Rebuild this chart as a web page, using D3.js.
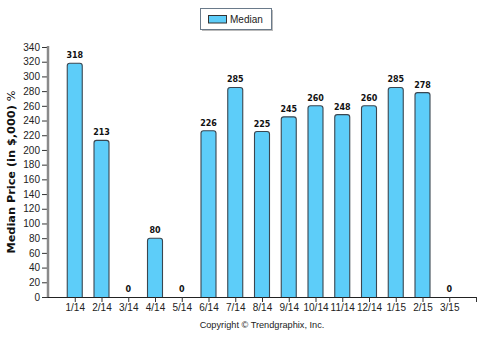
<!DOCTYPE html>
<html>
<head>
<meta charset="utf-8">
<script src="https://cdn.jsdelivr.net/npm/d3@7"></script>
<style>
  html, body { margin: 0; padding: 0; background: #fff; }
  svg { display: block; font-family: "Liberation Sans", Arial, sans-serif; }
</style>
</head>
<body>
<svg id="chart" width="482" height="338"></svg>
<script>
// Monthly median price, in $1,000s
const months = ["1/14","2/14","3/14","4/14","5/14","6/14","7/14","8/14","9/14","10/14","11/14","12/14","1/15","2/15","3/15"];
const medianValues = [318, 213, 0, 80, 0, 226, 285, 225, 245, 260, 248, 260, 285, 278, 0];
const yTicks = [0,20,40,60,80,100,120,140,160,180,200,220,240,260,280,300,320,340];
const seriesName = "Median";

const svg = d3.select("#chart");
const plotLeft = 48, plotRight = 476, plotTop = 47, plotBottom = 297;
const tickFont = "'Liberation Sans', Arial, sans-serif";

// Categories sit on whole-number slots 1..15 of a 0..16 axis
const x = d3.scaleLinear().domain([0, months.length + 1]).range([plotLeft, plotRight]);
const y = d3.scaleLinear().domain([0, 340]).range([plotBottom, plotTop]);
const barW = 15;
const fill = "#5dcdf9";

// Bars with slightly rounded tops
const bars = svg.append("g");
months.forEach((m, i) => {
  const v = medianValues[i];
  if (v <= 0) return;
  const x0 = x(i + 1) - barW / 2, x1 = x0 + barW;
  const yt = y(v), yb = y(0), r = 2.5;
  const p = `M${x0},${yb} L${x0},${yt + r} Q${x0},${yt} ${x0 + r},${yt} L${x1 - r},${yt} Q${x1},${yt} ${x1},${yt + r} L${x1},${yb}`;
  bars.append("path").attr("d", p + "Z").attr("fill", fill).attr("stroke", "none");
  bars.append("path").attr("d", p).attr("fill", "none").attr("stroke", "#3a4650").attr("stroke-width", 1.1);
});

// Value labels
svg.append("g").selectAll("text").data(months).join("text")
  .attr("x", (d, i) => x(i + 1))
  .attr("y", (d, i) => y(medianValues[i]) - 5)
  .attr("text-anchor", "middle")
  .attr("font-family", "'DejaVu Sans', sans-serif")
  .attr("font-size", 8).attr("font-weight", "bold").attr("fill", "#111")
  .text((d, i) => medianValues[i]);

// Y axis
const yAxis = d3.axisLeft(y).tickValues(yTicks).tickSize(6).tickPadding(2);
const gy = svg.append("g").attr("transform", `translate(${plotLeft},0)`).call(yAxis);
gy.select(".domain").remove();
gy.selectAll(".tick line").attr("stroke", "#333");
gy.selectAll(".tick text").attr("font-size", 10).attr("fill", "#222").attr("font-family", tickFont);
svg.append("line").attr("x1", plotLeft).attr("x2", plotLeft).attr("y1", plotTop - 1).attr("y2", plotBottom)
  .attr("stroke", "#8a8a8a").attr("stroke-width", 2.5);

// X axis
const xAxis = d3.axisBottom(x).tickValues(d3.range(1, months.length + 2)).tickSize(5).tickPadding(2)
  .tickFormat(d => months[d - 1] || "");
const gx = svg.append("g").attr("transform", `translate(0,${plotBottom})`).call(xAxis);
gx.select(".domain").attr("d", `M${plotLeft},0.5H${plotRight}`).attr("stroke", "#222");
gx.selectAll(".tick line").attr("stroke", "#333");
gx.selectAll(".tick text").attr("font-size", 10).attr("fill", "#222").attr("font-family", tickFont);

// Y axis title
const title = svg.append("text")
  .attr("transform", "translate(14.5,172) rotate(-90)")
  .attr("text-anchor", "middle")
  .attr("font-family", "'DejaVu Sans', sans-serif")
  .attr("font-size", 11.3).attr("fill", "#111");
title.append("tspan").attr("font-weight", "bold").text("Median Price (in $,000) ");
title.append("tspan").text("%");

// Footer
svg.append("text").attr("x", 262).attr("y", 328).attr("text-anchor", "middle")
  .attr("font-size", 9.2).attr("fill", "#222")
  .text("Copyright \u00A9 Trendgraphix, Inc.");

// Legend
const lg = svg.append("g");
lg.append("rect").attr("x", 202).attr("y", 10).attr("width", 71).attr("height", 21).attr("fill", "#bbb");
lg.append("rect").attr("x", 200.5).attr("y", 8.5).attr("width", 71).attr("height", 21)
  .attr("fill", "#fff").attr("stroke", "#6a7a8a").attr("stroke-width", 1);
lg.append("rect").attr("x", 208.5).attr("y", 15.5).attr("width", 18).attr("height", 7.5)
  .attr("fill", fill).attr("stroke", "#333").attr("stroke-width", 1);
lg.append("text").attr("x", 230).attr("y", 22.5).attr("font-size", 10).attr("fill", "#222").text(seriesName);
</script>
</body>
</html>
